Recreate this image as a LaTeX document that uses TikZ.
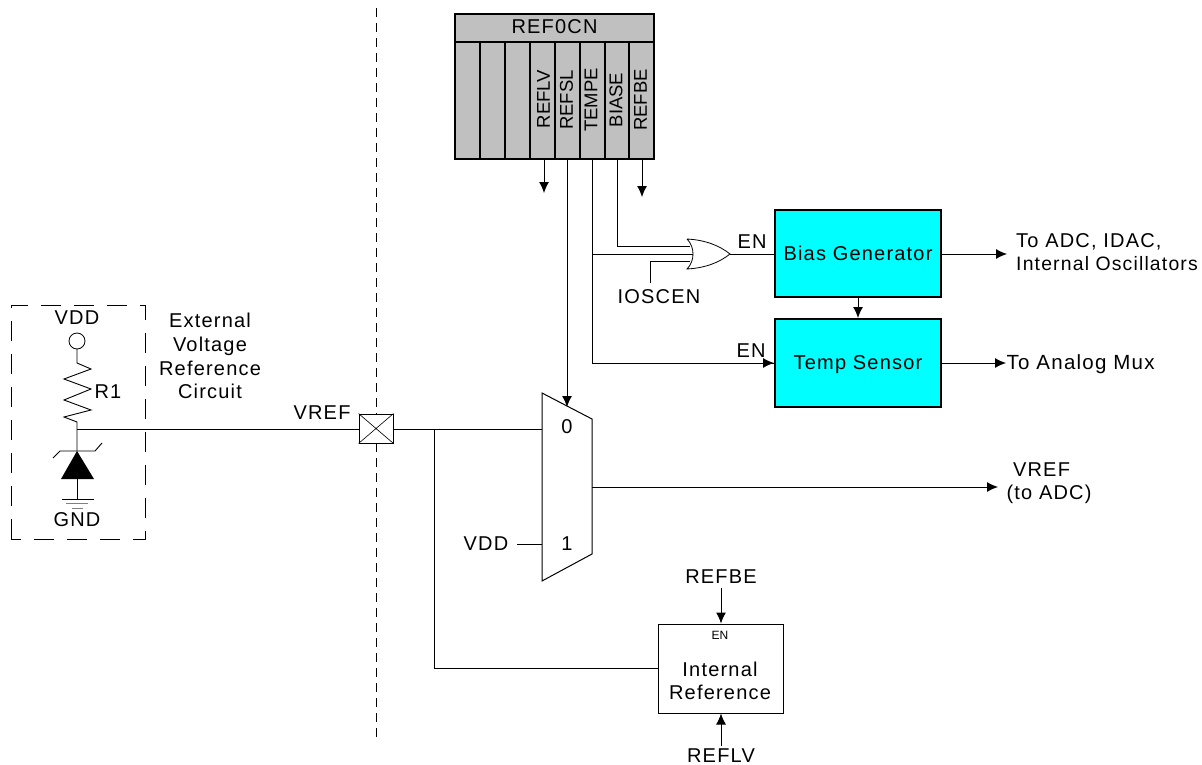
\documentclass[tikz,border=0pt]{standalone}
\usepackage{fontspec}
\setmainfont[LetterSpace=6]{Liberation Sans}
\newfontfamily\plainface{Liberation Sans}
\usetikzlibrary{arrows.meta}
\tikzset{
  wire/.style={draw=black,line width=1pt},
  arr/.style={wire,-{Latex[length=11pt,width=10pt]}},
  lbl/.style={font=\fontsize{20}{22}\selectfont,inner sep=0pt,text=black,text height=13.5pt,text depth=0pt},
  vlbl/.style={font=\plainface\fontsize{18.5}{20}\selectfont,inner sep=0pt,rotate=90,text=black},
  regbox/.style={draw=black,line width=2pt,fill=regfill,inner sep=0pt},
  cyanbox/.style={draw=black,line width=2pt,fill=blockcyan,inner sep=0pt,font=\fontsize{20}{22}\selectfont,text height=13.5pt,text depth=0pt},
  plainbox/.style={draw=black,line width=1pt,fill=white,inner sep=0pt},
}
\definecolor{regfill}{HTML}{C0C0C0}
\definecolor{blockcyan}{HTML}{00FFFF}
\begin{document}
\begin{tikzpicture}[x=1pt,y=-1pt]
\useasboundingbox (0,0) rectangle (1202,765);
% boundary line
\coordinate (dashT) at (376,8);
\coordinate (dashB) at (376,737);
\draw[line width=.9pt,dash pattern=on 9pt off 6pt] (dashT) -- (dashB);
% register
\node[regbox,minimum width=199pt,minimum height=145pt] (reg) at (554.5,86.5) {};
\draw[line width=2pt] (455,42) -- (654,42);
\foreach \x in {480,505,530,555,580,605,629} \draw[line width=2pt] (\x,42) -- (\x,159);
\node[lbl] (regt) at (554.5,27) {REF0CN};
\node[vlbl] (bREFLV) at (543.5,99) {REFLV};
\node[vlbl] (bREFSL) at (566.5,100) {REFSL};
\node[vlbl] (bTEMPE) at (591,100) {TEMPE};
\node[vlbl] (bBIASE) at (616,100) {BIASE};
\node[vlbl] (bREFBE) at (640.5,100) {REFBE};
\coordinate (oREFLV) at (544,159);
\coordinate (eREFLV) at (544,193);
\coordinate (oREFSL) at (567,159);
\coordinate (oTEMPE) at (592,159);
\coordinate (oBIASE) at (617,159);
\coordinate (oREFBE) at (642,159);
\coordinate (eREFBE) at (642,197);
\draw[arr] (oREFLV) -- (eREFLV);
\draw[arr] (oREFBE) -- (eREFBE);
% blocks
\node[cyanbox,minimum width=166pt,minimum height=87pt] (bias) at (858,253.5) {Bias Generator};
\node[cyanbox,minimum width=166pt,minimum height=88pt] (temp) at (858,363) {Temp Sensor};
\draw[arr] (bias) -- (temp);
% OR gate
\coordinate (orOut) at (730,254);
\coordinate (orA) at (690,246);
\coordinate (orB) at (693,254);
\coordinate (orC) at (690,261);
\coordinate (tIOS) at (650,283);
\draw[line width=.8pt] (687,239) .. controls (706,240) and (720,246) .. (orOut)
  .. controls (720,262) and (706,268) .. (687,269)
  .. controls (695,261) and (695,247) .. (687,239);
\draw[wire] (oBIASE) |- (orA);
\draw[wire] (592,254) -- (orB);
\draw[wire] (tIOS) |- (orC);
\draw[wire] (orOut) -- (orOut -| bias.west);
\draw[wire] (oTEMPE) |- (temp.west);
\draw[arr] (700,363) -- (temp.west);
\node[lbl] (ios) at (659,297) {IOSCEN};
\node[lbl] (en1) at (752,242) {EN};
\node[lbl] (en2) at (751,351) {EN};
% outputs
\coordinate (oBias) at (1007,254);
\coordinate (oTemp) at (1006,363);
\draw[arr] (bias.east |- oBias) -- (oBias);
\draw[arr] (temp.east |- oTemp) -- (oTemp);
\node[lbl,anchor=west] (t1) at (1016,241) {To ADC, IDAC,};
\node[lbl,anchor=west,font=\fontsize{19.4}{22}\selectfont] (t2) at (1016,264) {Internal Oscillators};
\node[lbl,anchor=west,font=\fontsize{20.5}{22}\selectfont] (t3) at (1006.5,363) {To Analog Mux};
% mux
\path[draw=black,line width=1pt,fill=white] (542,393) coordinate (m1) -- (592,419) coordinate (m2) -- (592,554) coordinate (m3) -- (542,581) coordinate (m4) -- cycle;
\coordinate (mIn0) at (542,429);
\coordinate (mIn1) at (542,544);
\coordinate (mSel) at (567,407);
\coordinate (mOut) at (592,487);
\coordinate (oVref) at (998,487);
\draw[arr] (oREFSL) -- (mSel);
\draw[arr] (mOut) -- (oVref);
\node[lbl] (m0) at (567,427) {0};
\node[lbl] (m1t) at (567,544) {1};
\node[lbl] (vddm) at (486,544) {VDD};
\coordinate (vddmE) at (517,544);
\draw[wire] (vddmE) -- (mIn1);
\node[lbl] (v2a) at (1041.5,470) {VREF};
\node[lbl] (v2b) at (1049,493) {(to ADC)};
% pad
\node[draw=black,line width=1pt,fill=white,minimum width=34pt,minimum height=29pt,inner sep=0pt] (pad) at (376,428.5) {};
\draw[line width=.6pt] (pad.north west) -- (pad.south east) (pad.north east) -- (pad.south west);
\coordinate (jct) at (434.5,429);
\draw[wire] (pad.east |- mIn0) -- (mIn0);
\node[lbl] (vr) at (322,413) {VREF};
% internal reference
\node[plainbox,minimum width=125pt,minimum height=89pt] (iref) at (720.5,668.5) {};
\node[inner sep=0pt,font=\plainface\fontsize{12}{14}\selectfont] (ien) at (720,635) {EN};
\node[lbl] (i1) at (720,670) {Internal};
\node[lbl] (i2) at (720,693) {Reference};
\draw[wire] (jct) |- (iref.west);
\node[lbl] (rbe) at (721,577) {REFBE};
\node[lbl] (rlv) at (721,756) {REFLV};
\coordinate (rbeS) at (721,588);
\coordinate (rlvS) at (721,746);
\draw[arr] (rbeS) -- (rbeS |- iref.north);
\draw[arr] (rlvS) -- (rlvS |- iref.south);
% external circuit
\draw[line width=.9pt,dash pattern=on 20pt off 13pt] (11,539) rectangle (145,305);
\node[lbl] (vdd) at (77,318) {VDD};
\node[draw=black,line width=.8pt,circle,minimum size=16pt,inner sep=0pt] (vc) at (77,341) {};
\coordinate (rTop) at (77,363);
\coordinate (rBot) at (77,422);
\coordinate (zTop) at (77,451);
\coordinate (zBase) at (77,479);
\coordinate (gTop) at (77,499);
\coordinate (tap) at (77,429);
\draw[line width=.9pt] (vc) ++(0,8) -- (rTop) -- (91,369) -- (64,379) -- (91,389) -- (64,400) -- (91,410) -- (64,417) -- (rBot) -- (zTop);
\draw[wire] (tap) -- (pad.west |- tap);
\draw[line width=.9pt] (53,458) -- (60,451) -- (95,451) -- (102,443);
\fill (zTop) -- (94,479) -- (61,479) -- cycle;
\draw[wire] (zBase) -- (gTop);
\draw[line width=.9pt] (62,499) -- (94,499);
\draw[line width=.9pt,draw=gray] (66,503) -- (88,503);
\draw[line width=.9pt,draw=gray] (72,508) -- (83,508);
\node[lbl] (gnd) at (77,520) {GND};
\node[lbl] (r1) at (108,392) {R1};
\node[lbl] (e1) at (210,321) {External};
\node[lbl] (e2) at (210,345) {Voltage};
\node[lbl] (e3) at (210,369) {Reference};
\node[lbl] (e4) at (210,392) {Circuit};
\end{tikzpicture}
\end{document}
